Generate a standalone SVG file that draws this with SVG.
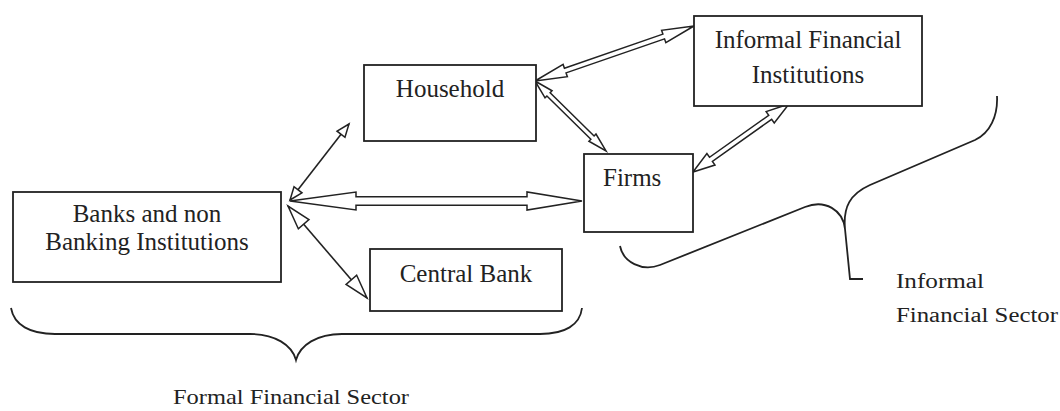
<svg xmlns="http://www.w3.org/2000/svg" width="1060" height="411" viewBox="0 0 1060 411">
<style>
.box{fill:#fff;stroke:#222;stroke-width:1.8}
.t{font-family:"Liberation Serif","Times New Roman",serif;font-size:25px;fill:#222}
.lab{font-family:"Liberation Serif","Times New Roman",serif;fill:#222}
.blk{fill:#fff;stroke:#222;stroke-width:1.5;stroke-linejoin:miter}
.ln{stroke:#222;stroke-width:1.6;fill:none}
.brace{fill:none;stroke:#222;stroke-width:1.8}
</style>
<defs>
<marker id="hs" viewBox="-1 -1 15 12" refX="13" refY="5" markerWidth="15" markerHeight="12" markerUnits="userSpaceOnUse" orient="auto-start-reverse" overflow="visible">
<path d="M0,0 L13,5 L0,10 Z" fill="#fff" stroke="#222" stroke-width="1.5"/>
</marker>
<marker id="hl" viewBox="-1 -1 26 16" refX="24" refY="7" markerWidth="26" markerHeight="16" markerUnits="userSpaceOnUse" orient="auto-start-reverse" overflow="visible">
<path d="M0,0 L24,7 L0,14 Z" fill="#fff" stroke="#222" stroke-width="1.5"/>
</marker>
</defs>

<g id="connectors">
<line class="ln" x1="290" y1="200" x2="349" y2="124" marker-start="url(#hs)" marker-end="url(#hs)"/>
<line class="ln" x1="288" y1="206" x2="367" y2="298" marker-start="url(#hl)" marker-end="url(#hl)"/>
<polygon class="blk" transform="translate(290,201)" points="0,0 66,-9 66,-4.3 237,-4.3 237,-9 292,0 237,9 237,4.3 66,4.3 66,9"/>
<polygon class="blk" transform="translate(535,81) rotate(-19.08)" points="0,0 32,-6.5 32,-2.5 136.2,-2.5 136.2,-6.5 168.2,0 136.2,6.5 136.2,2.5 32,2.5 32,6.5"/>
<polygon class="blk" transform="translate(535,81) rotate(44.59)" points="0,0 19,-5 19,-2.3 80.7,-2.3 80.7,-5 99.7,0 80.7,5 80.7,2.3 19,2.3 19,5"/>
<polygon class="blk" transform="translate(693,172) rotate(-35.31)" points="0,0 22,-7 22,-2.5 94.6,-2.5 94.6,-7 117.6,0 94.6,7 94.6,2.5 22,2.5 22,7"/>
</g>

<g id="banks">
<rect class="box" x="13" y="192" width="268" height="90"/>
<text class="t" x="147" y="222" text-anchor="middle">Banks and non</text>
<text class="t" x="147" y="250" text-anchor="middle">Banking Institutions</text>
</g>
<g id="household">
<rect class="box" x="364" y="65" width="172" height="76"/>
<text class="t" x="450" y="97" text-anchor="middle">Household</text>
</g>
<g id="informal-institutions">
<rect class="box" x="694" y="16" width="228" height="90"/>
<text class="t" x="808" y="48" text-anchor="middle">Informal Financial</text>
<text class="t" x="808" y="83" text-anchor="middle">Institutions</text>
</g>
<g id="firms">
<rect class="box" x="584" y="154" width="109" height="78"/>
<text class="t" x="603" y="186">Firms</text>
</g>
<g id="central-bank">
<rect class="box" x="370" y="249" width="192" height="62"/>
<text class="t" x="466" y="282" text-anchor="middle">Central Bank</text>
</g>

<g id="formal-sector">
<path class="brace" d="M11,308 C14,325 30,334 55,334 L250,334 C275,334 292,345 296,360 C300,345 317,334 342,334 L540,334 C565,334 580,325 582,308"/>
<text class="lab" x="173" y="404" font-size="21" textLength="236" lengthAdjust="spacingAndGlyphs">Formal Financial Sector</text>
</g>
<g id="informal-sector">
<path class="brace" d="M620,246 C623,262 642,272 660,265 L805,207 C825,199 843,210 845,229 C843,207 850,194 870,185 L975,140 C990,133 998,116 997,96"/>
<path class="brace" d="M845,229 L850,279 L863,279"/>
<text class="lab" x="896" y="288" font-size="20" textLength="88" lengthAdjust="spacingAndGlyphs">Informal</text>
<text class="lab" x="896" y="322" font-size="20" textLength="162" lengthAdjust="spacingAndGlyphs">Financial Sector</text>
</g>
</svg>
